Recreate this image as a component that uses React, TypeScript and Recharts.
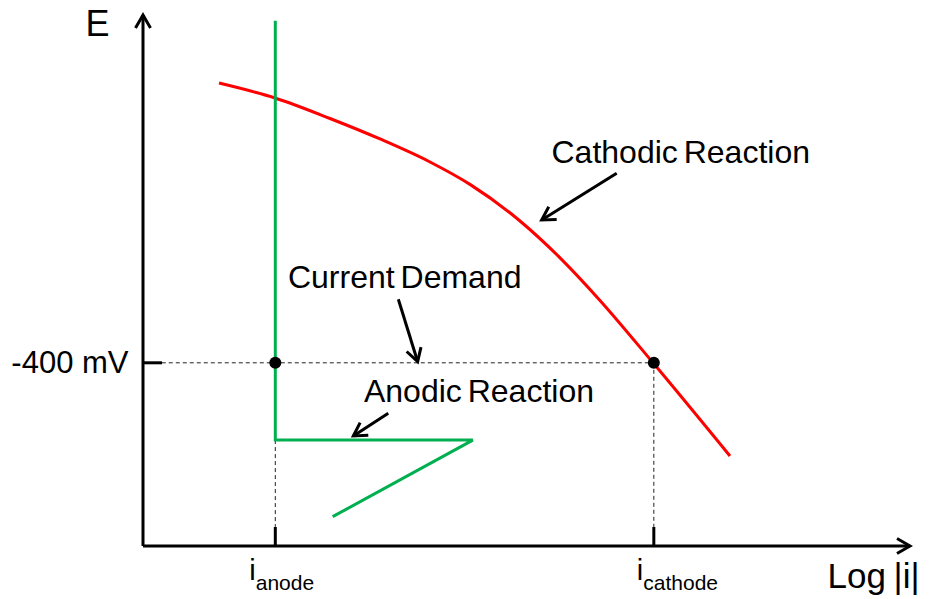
import React from "react";
import {
  LineChart, Line, XAxis, YAxis, ReferenceLine, ReferenceDot,
} from "recharts";

// schematic units: both axes run 0..100
const E_CORR = 34.5;
const I_ANODE = 17.25;
const I_CATHODE = 66.6;

const cathodicI = [9.91, 17.21, 24.38, 30.9, 37.42, 42.63, 49.15, 54.37, 59.58, 66.5, 76.53];
const cathodicE = [87.19, 84.37, 80.51, 76.65, 72.32, 68.1, 61.21, 54.27, 46.25, 34.5, 16.95];

const anodicI = [17.25, 17.25, 43.0, 24.73];
const anodicE = [98.9, 19.95, 19.95, 5.52];

const xTicks = [I_ANODE, I_CATHODE];
const xTickSubs = ["anode", "cathode"];
const yTicks = [E_CORR];
const yTickLabels = ["-400 mV"];

const noteText = ["Current Demand", "Anodic Reaction", "Cathodic Reaction"];
const noteI = [18.9, 28.81, 53.26];
const noteE = [48.5, 27.18, 72.07];
const arrowFromI = [33.29, 31.98, 61.76];
const arrowFromE = [46.46, 24.99, 70.19];
const arrowToI = [35.81, 27.42, 51.98];
const arrowToE = [34.71, 20.72, 61.39];

const GUIDE_LEFT = 2.45;
const GUIDE_FLOOR = 3.6;

const FONT = '"Liberation Sans", Arial, sans-serif';
const TICK_LEN = 19;

const cathodicData = cathodicI.map((x, i) => ({ x, e: cathodicE[i] }));
const anodicData = anodicI.map((x, i) => ({ x, e: anodicE[i] }));

function arrowShape(props: any) {
  const { x1, y1, x2, y2 } = props;
  const ang = Math.atan2(y2 - y1, x2 - x1);
  const L = 15;
  const A = Math.PI / 6;
  const w1 = `${x2 - L * Math.cos(ang - A)},${y2 - L * Math.sin(ang - A)}`;
  const w2 = `${x2 - L * Math.cos(ang + A)},${y2 - L * Math.sin(ang + A)}`;
  return (
    <g>
      <line x1={x1} y1={y1} x2={x2} y2={y2} stroke="#000" strokeWidth={3} />
      <polyline points={`${w1} ${x2},${y2} ${w2}`} fill="none" stroke="#000" strokeWidth={3} />
    </g>
  );
}

function noteShape(text: string) {
  return (props: any) => (
    <text x={props.cx} y={props.cy} fontFamily={FONT} fontSize={32} wordSpacing={-3} fill="#000">
      {text}
    </text>
  );
}

const LABEL_SHIFT: Record<string, number> = { anode: -26, cathode: -17 };

function CurrentTick(props: any) {
  const { x, y, payload } = props;
  const sub = xTickSubs[xTicks.indexOf(payload.value)];
  return (
    <g>
      <line x1={x} y1={y} x2={x} y2={y - TICK_LEN} stroke="#000" strokeWidth={3} />
      <text x={x + LABEL_SHIFT[sub]} y={y + 34} fontFamily={FONT} fontSize={29} fill="#000">
        i<tspan fontSize={21} dy={10}>{sub}</tspan>
      </text>
    </g>
  );
}

function PotentialTick(props: any) {
  const { x, y, payload } = props;
  const label = yTickLabels[yTicks.indexOf(payload.value)];
  return (
    <g>
      <line x1={x} y1={y} x2={x + TICK_LEN} y2={y} stroke="#000" strokeWidth={3} />
      <text x={x - 14.5} y={y + 10.5} textAnchor="end" fontFamily={FONT} fontSize={31} fill="#000">
        {label}
      </text>
    </g>
  );
}

export default function App() {
  return (
    <div style={{ position: "absolute", left: 0, top: 0, background: "#fff" }}>
      <LineChart width={930} height={599} margin={{ top: 15, right: 20, bottom: 0, left: 0 }}>
        <XAxis
          type="number"
          dataKey="x"
          domain={[0, 100]}
          allowDataOverflow
          ticks={xTicks}
          axisLine={false}
          tickLine={false}
          tickSize={0}
          tickMargin={0}
          height={53}
          tick={(p: any) => <CurrentTick {...p} />}
          label={{
            content: ({ viewBox }: any) => (
              <text x={viewBox.x + viewBox.width - 82.5} y={viewBox.y + 42.3}
                fontFamily={FONT} fontSize={35} wordSpacing={-2} fill="#000">
                Log |i|
              </text>
            ),
          }}
        />
        <YAxis
          type="number"
          dataKey="e"
          domain={[0, 100]}
          allowDataOverflow
          ticks={yTicks}
          axisLine={false}
          tickLine={false}
          tickSize={0}
          tickMargin={0}
          width={143}
          tick={(p: any) => <PotentialTick {...p} />}
          label={{
            content: ({ viewBox }: any) => (
              <text x={viewBox.x + viewBox.width - 57.6} y={viewBox.y + 20.7}
                fontFamily={FONT} fontSize={36} fill="#000">
                E
              </text>
            ),
          }}
        />

        {/* axes with arrow heads */}
        <ReferenceLine segment={[{ x: 0, y: 0 }, { x: 0, y: 100 }]} shape={arrowShape} />
        <ReferenceLine segment={[{ x: 0, y: 0 }, { x: 100, y: 0 }]} shape={arrowShape} />

        {/* dashed guides */}
        <ReferenceLine segment={[{ x: GUIDE_LEFT, y: E_CORR }, { x: I_CATHODE, y: E_CORR }]}
          stroke="#222" strokeWidth={1} strokeDasharray="4 3" />
        <ReferenceLine segment={[{ x: I_ANODE, y: anodicE[1] }, { x: I_ANODE, y: GUIDE_FLOOR }]}
          stroke="#222" strokeWidth={1} strokeDasharray="4 3" />
        <ReferenceLine segment={[{ x: I_CATHODE, y: E_CORR }, { x: I_CATHODE, y: GUIDE_FLOOR }]}
          stroke="#222" strokeWidth={1} strokeDasharray="4 3" />

        <Line data={cathodicData} dataKey="e" type="monotone" stroke="#ff0000" strokeWidth={3}
          dot={false} activeDot={false} isAnimationActive={false} />
        <Line data={anodicData} dataKey="e" type="linear" stroke="#00b050" strokeWidth={3}
          dot={false} activeDot={false} isAnimationActive={false} />

        <ReferenceDot x={I_ANODE} y={E_CORR} r={6} fill="#000" stroke="none" />
        <ReferenceDot x={I_CATHODE} y={E_CORR} r={6} fill="#000" stroke="none" />

        {noteText.map((t, i) => (
          <ReferenceDot key={t} x={noteI[i]} y={noteE[i]} r={0} shape={noteShape(t)} />
        ))}
        {noteText.map((t, i) => (
          <ReferenceLine key={"a" + t}
            segment={[{ x: arrowFromI[i], y: arrowFromE[i] }, { x: arrowToI[i], y: arrowToE[i] }]}
            shape={arrowShape} />
        ))}
      </LineChart>
    </div>
  );
}
